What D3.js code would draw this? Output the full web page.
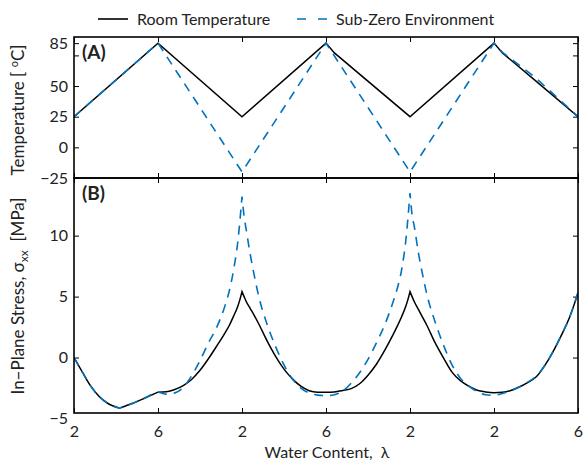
<!DOCTYPE html>
<html>
<head>
<meta charset="utf-8">
<script src="https://cdn.jsdelivr.net/npm/d3@7"></script>
<style>
  html, body { margin: 0; padding: 0; background: #fff; }
  svg { display: block; }
  text { font-family: Lato, "Open Sans", sans-serif; fill: #222; }
</style>
</head>
<body>
<svg id="chart" width="583" height="461"></svg>
<script>
// ---- data ----
const xTickLabels = ["2", "6", "2", "6", "2", "2", "6"];
const seriesNames = ["Room Temperature", "Sub-Zero Environment"];

const tempX = [0, 1, 2, 3, 3.1, 4, 5, 5.1, 5.5, 6];
const tempRoom = [25, 85, 25, 85, 77, 25, 85, 77, 54, 25];
const tempSubZero = [25, 85, -20, 85, 74.5, -20, 85, 77.5, 56.5, 25];
const tempTicks = [-25, 0, 25, 50, 75, 85];
const tempTickLabels = ["\u221225", "0", "25", "50", "", "85"];

const stressX = [0, 0.1, 0.2, 0.3, 0.4, 0.54, 0.7, 0.85, 1.0, 1.1, 1.2, 1.3, 1.4, 1.5, 1.6, 1.7, 1.8, 1.85, 1.9, 1.95, 1.975, 2.0,
  2.025, 2.05, 2.1, 2.15, 2.2, 2.3, 2.4, 2.5, 2.6, 2.7, 2.8, 2.9, 3.0, 3.1, 3.2, 3.3, 3.4, 3.5, 3.6, 3.7, 3.8, 3.85, 3.9, 3.95, 3.975, 4.0,
  4.025, 4.05, 4.1, 4.15, 4.2, 4.3, 4.4, 4.5, 4.6, 4.7, 4.8, 4.9, 5.0, 5.1, 5.2, 5.3, 5.4, 5.5, 5.6, 5.7, 5.8, 5.9, 6.0];
const stressRoom = [0, -1.2, -2.35, -3.2, -3.75, -4.15, -3.75, -3.3, -2.84, -2.8, -2.62, -2.3, -1.8, -1.05, -0.1, 0.95, 2.05, 2.65, 3.4, 4.2, 4.75, 5.41,
  5.0, 4.6, 4.0, 3.4, 2.75, 1.35, 0.1, -0.95, -1.75, -2.35, -2.72, -2.84, -2.85, -2.82, -2.7, -2.55, -2.15, -1.45, -0.55, 0.6, 1.9, 2.6, 3.35, 4.2, 4.75, 5.41,
  5.0, 4.6, 3.95, 3.3, 2.65, 1.2, -0.05, -1.2, -1.9, -2.35, -2.68, -2.82, -2.88, -2.85, -2.7, -2.42, -2.05, -1.6, -0.7, 0.45, 1.8, 3.3, 5.3];
const stressSubZero = [0, -1.2, -2.35, -3.2, -3.75, -4.15, -3.75, -3.3, -2.84, -3.0, -2.9, -2.45, -1.5, -0.25, 1.2, 2.5, 4.3, 5.5, 7.2, 9.5, 11.2, 13.2,
  11.6, 10.5, 8.4, 6.6, 5.0, 2.7, 0.9, -0.6, -1.75, -2.5, -2.9, -3.08, -3.12, -3.05, -2.75, -2.1, -1.25, -0.15, 1.2, 2.7, 4.6, 5.7, 7.2, 9.6, 11.4, 13.5,
  11.7, 10.8, 8.6, 6.8, 5.2, 2.9, 1.0, -0.6, -1.7, -2.35, -2.8, -3.05, -3.1, -2.95, -2.72, -2.42, -2.02, -1.55, -0.7, 0.45, 1.8, 3.3, 5.35];
const roomCusps = [0.54, 1.0, 2, 4];
const subZeroCusps = [0.54, 2, 4];
const stressTicks = [-5, 0, 5, 10];
const stressTickLabels = ["\u22125", "0", "5", "10"];

// ---- layout ----
const svg = d3.select("#chart");
const L = 74, R = 578, T1 = 37, B1 = 178, T2 = 178, B2 = 413;
const blue = "#0072BD";
const dash = "9,7";

const x = d3.scaleLinear().domain([0, 6]).range([L, R]);
const yT = d3.scaleLinear().domain([-25, 90]).range([B1, T1]);
const yS = d3.scaleLinear().domain([-4.55, 14.73]).range([B2, T2]);

function styleAxis(g) {
  g.select(".domain").remove();
  g.selectAll(".tick line").attr("stroke", "#000").attr("stroke-width", 1);
  g.selectAll(".tick text").style("font-family", "Lato, 'Open Sans', sans-serif").style("font-size", "16px").attr("fill", "#222");
}

// panel A axes
svg.append("g").attr("transform", `translate(${L},0)`)
  .call(d3.axisLeft(yT).tickValues(tempTicks).tickFormat((d, i) => tempTickLabels[i]).tickSizeInner(-5).tickSizeOuter(0).tickPadding(6))
  .call(styleAxis);
svg.append("g").attr("transform", `translate(${R},0)`)
  .call(d3.axisRight(yT).tickValues(tempTicks).tickFormat("").tickSizeInner(-5).tickSizeOuter(0))
  .call(styleAxis);
svg.append("g").attr("transform", `translate(0,${T1})`)
  .call(d3.axisTop(x).tickValues(d3.range(7)).tickFormat("").tickSizeInner(-5).tickSizeOuter(0))
  .call(styleAxis);
svg.append("g").attr("transform", `translate(0,${B1})`)
  .call(d3.axisBottom(x).tickValues(d3.range(7)).tickFormat("").tickSizeInner(-5).tickSizeOuter(0))
  .call(styleAxis);

// panel B axes
const yAxB = svg.append("g").attr("transform", `translate(${L},0)`)
  .call(d3.axisLeft(yS).tickValues(stressTicks).tickFormat((d, i) => stressTickLabels[i]).tickSizeInner(-5).tickSizeOuter(0).tickPadding(6))
  .call(styleAxis);
yAxB.selectAll(".tick").filter(d => d < -4.55).select("line").remove();
svg.append("g").attr("transform", `translate(${R},0)`)
  .call(d3.axisRight(yS).tickValues(stressTicks.filter(d => d > -4.55)).tickFormat("").tickSizeInner(-5).tickSizeOuter(0))
  .call(styleAxis);
svg.append("g").attr("transform", `translate(0,${T2})`)
  .call(d3.axisTop(x).tickValues(d3.range(7)).tickFormat("").tickSizeInner(-5).tickSizeOuter(0))
  .call(styleAxis);
svg.append("g").attr("transform", `translate(0,${B2})`)
  .call(d3.axisBottom(x).tickValues(d3.range(7)).tickFormat((d, i) => xTickLabels[i]).tickSizeInner(-5).tickSizeOuter(0).tickPadding(13))
  .call(styleAxis);

// clip paths
const defs = svg.append("defs");
defs.append("clipPath").attr("id", "clipA").append("rect").attr("x", L).attr("y", T1).attr("width", R - L).attr("height", B1 - T1);
defs.append("clipPath").attr("id", "clipB").append("rect").attr("x", L).attr("y", T2).attr("width", R - L).attr("height", B2 - T2);

// panel A lines
const lineT = d3.line().x(d => x(d[0])).y(d => yT(d[1]));
const gA = svg.append("g").attr("clip-path", "url(#clipA)");
gA.append("path").attr("d", lineT(tempX.map((v, i) => [v, tempRoom[i]])))
  .attr("fill", "none").attr("stroke", "#000").attr("stroke-width", 1.5);
gA.append("path").attr("d", lineT(tempX.map((v, i) => [v, tempSubZero[i]])))
  .attr("fill", "none").attr("stroke", blue).attr("stroke-width", 1.6).attr("stroke-dasharray", dash);

// panel B lines: smooth segments split at cusps
const lineS = d3.line().x(d => x(d[0])).y(d => yS(d[1])).curve(d3.curveMonotoneX);
function smoothPath(xs, ys, cusps) {
  const pts = xs.map((v, i) => [v, ys[i]]);
  const bounds = [xs[0], ...cusps, xs[xs.length - 1]];
  let d = "";
  for (let k = 0; k < bounds.length - 1; k++) {
    const seg = pts.filter(p => p[0] >= bounds[k] && p[0] <= bounds[k + 1]);
    let s = lineS(seg);
    if (k > 0) s = s.replace(/^M[^LC]*/, "");
    d += s;
  }
  return d;
}
const gB = svg.append("g").attr("clip-path", "url(#clipB)");
gB.append("path").attr("d", smoothPath(stressX, stressRoom, roomCusps))
  .attr("fill", "none").attr("stroke", "#000").attr("stroke-width", 1.5);
gB.append("path").attr("d", smoothPath(stressX, stressSubZero, subZeroCusps))
  .attr("fill", "none").attr("stroke", blue).attr("stroke-width", 1.6).attr("stroke-dasharray", dash);

// frames
svg.append("rect").attr("x", L).attr("y", T1).attr("width", R - L).attr("height", B1 - T1)
  .attr("fill", "none").attr("stroke", "#000").attr("stroke-width", 1.6);
svg.append("rect").attr("x", L).attr("y", T2).attr("width", R - L).attr("height", B2 - T2)
  .attr("fill", "none").attr("stroke", "#000").attr("stroke-width", 1.6);

// panel labels
svg.append("text").attr("x", 82).attr("y", 59).style("font-size", "19px").style("font-weight", "bold").text("(A)");
svg.append("text").attr("x", 82).attr("y", 200).style("font-size", "19px").style("font-weight", "bold").text("(B)");

// axis titles
svg.append("text").attr("transform", `translate(${(L + R) / 2 + 1},458)`).attr("text-anchor", "middle")
  .style("font-size", "16px").text("Water Content,\u00A0\u00A0\u03BB");

const tA = svg.append("text").attr("transform", "translate(24,110) rotate(-90)").attr("text-anchor", "middle").style("font-size", "17px");
tA.append("tspan").text("Temperature [\u00A0");
tA.append("tspan").attr("dy", -6).style("font-size", "11px").text("o");
tA.append("tspan").attr("dy", 6).text("C]");

const tB = svg.append("text").attr("transform", "translate(24,296) rotate(-90)").attr("text-anchor", "middle").style("font-size", "17px");
tB.append("tspan").text("In\u2212Plane Stress, \u03C3");
tB.append("tspan").attr("dy", 4).style("font-size", "12px").text("xx");
tB.append("tspan").attr("dy", -4).text("\u00A0\u00A0[MPa]");

// legend
const legend = svg.append("g");
const legX = [98, 297];
seriesNames.forEach((name, i) => {
  legend.append("line").attr("x1", legX[i]).attr("x2", legX[i] + 30).attr("y1", 19).attr("y2", 19)
    .attr("stroke", i === 0 ? "#000" : blue).attr("stroke-width", 1.6)
    .attr("stroke-dasharray", i === 0 ? null : "9,12");
  legend.append("text").attr("x", legX[i] + 39).attr("y", 25).style("font-size", "16px").text(name);
});
</script>
</body>
</html>
